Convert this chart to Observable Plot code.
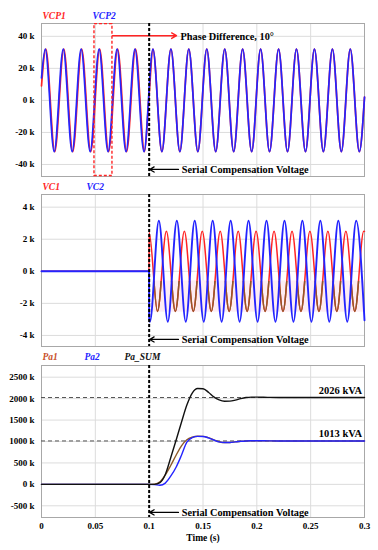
<!DOCTYPE html>
<html><head><meta charset="utf-8">
<script src="https://cdn.jsdelivr.net/npm/d3@7"></script>
<script src="https://cdn.jsdelivr.net/npm/@observablehq/plot@0.6"></script>
<style>
body{margin:0;background:#fff;}
#chart{width:378px;height:550px;}
#chart svg{display:block;}
</style></head><body><div id="chart"></div>
<script>
// ---------- tick values / labels ----------
const timeTicks = [0, 0.05, 0.1, 0.15, 0.2, 0.25, 0.3];
const timeTickLabels = ["0", "0.05", "0.1", "0.15", "0.2", "0.25", "0.3"];
const vcpTicks = [-40, -20, 0, 20, 40];
const vcpTickLabels = ["-40 k", "-20 k", "0 k", "20 k", "40 k"];
const vcTicks = [-4, -2, 0, 2, 4];
const vcTickLabels = ["-4 k", "-2 k", "0 k", "2 k", "4 k"];
const paTicks = [-500, 0, 500, 1000, 1500, 2000, 2500];
const paTickLabels = ["-500 k", "0 k", "500 k", "1000 k", "1500 k", "2000 k", "2500 k"];

// ---------- panel 1: VCP1 / VCP2 (k V), extrema ----------
const vcp2Time = [0,
  0.0035,0.0118,0.0202,0.0285,0.0368,0.0452,0.0535,0.0618,0.0702,0.0785,0.0868,0.0952,
  0.1035,0.1118,0.1202,0.1285,0.1368,0.1452,0.1535,0.1618,0.1702,0.1785,0.1868,0.1952,
  0.2035,0.2118,0.2202,0.2285,0.2368,0.2452,0.2535,0.2618,0.2702,0.2785,0.2868,0.2952,
  0.3];
const vcp2Value = [14,
  32,-32,32,-32,32,-32,32,-32,32,-32,32,-32,
  32,-32,32,-32,32,-32,32,-32,32,-32,32,-32,
  32,-32,32,-32,32,-32,32,-32,32,-32,32,-32,
  2];
const vcp1Time = [0,
  0.0040,0.0123,0.0207,0.0290,0.0373,0.0457,0.0540,0.0623,0.0707,0.0790,0.0873,0.0957,
  0.1];
const vcp1Value = [9,
  32,-32,32,-32,32,-32,32,-32,32,-32,32,-32,
  4];

// ---------- panel 2: VC1 / VC2 (k V) ----------
const vc1Time = [0,0.0999,0.1,
  0.1077,0.1160,0.1243,0.1327,0.1410,0.1493,0.1577,0.1660,0.1743,0.1827,0.1910,0.1993,
  0.2077,0.2160,0.2243,0.2327,0.2410,0.2493,0.2577,0.2660,0.2743,0.2827,0.2910,0.2993,
  0.3];
const vc1Value = [0,0,2.4,
  -2.5,2.5,-2.5,2.5,-2.5,2.5,-2.5,2.5,-2.5,2.5,-2.5,2.5,
  -2.5,2.5,-2.5,2.5,-2.5,2.5,-2.5,2.5,-2.5,2.5,-2.5,2.5,
  2.49];
const vc2Time = [0,0.0999,0.1,
  0.1007,0.1090,0.1173,0.1257,0.1340,0.1423,0.1507,0.1590,0.1673,0.1757,0.1840,0.1923,
  0.2007,0.2090,0.2173,0.2257,0.2340,0.2423,0.2507,0.2590,0.2673,0.2757,0.2840,0.2923,
  0.3];
const vc2Value = [0,0,-2.9,
  -3.15,3.15,-3.15,3.15,-3.15,3.15,-3.15,3.15,-3.15,3.15,-3.15,3.15,
  -3.15,3.15,-3.15,3.15,-3.15,3.15,-3.15,3.15,-3.15,3.15,-3.15,3.15,
  -3.05];

// ---------- panel 3: Pa1 / Pa2 / Pa_SUM (kVA) ----------
const paTime = [0,0.1,0.105,0.11,0.115,0.12,0.125,0.13,0.135,0.14,0.145,0.15,0.155,0.16,0.165,0.17,0.175,0.18,0.185,0.19,0.195,0.2,0.21,0.22,0.3];
const paSum = [0,0,0,40,230,620,1030,1450,1850,2130,2235,2230,2150,2040,1970,1940,1942,1965,2000,2025,2035,2036,2030,2026,2026];
const pa1 = [0,0,5,60,220,440,680,900,1040,1100,1122,1120,1090,1040,995,975,978,992,1005,1013,1016,1017,1015,1013,1013];
const pa2 = [0,0,-5,-20,30,190,400,680,985,1090,1120,1118,1085,1035,990,975,978,992,1005,1013,1016,1017,1015,1013,1013];
const refLevels = [2026, 1013];
const refLabels = ["2026 kVA", "1013 kVA"];

// ---------- annotations ----------
const eventTime = 0.1;
const serialText = "Serial Compensation Voltage";
const phaseText = "Phase Difference, 10°";
const phaseBox = {t1: 0.0492, t2: 0.0659};

// ---------- build ----------
const toRows = (T, V) => T.map((t, i) => ({t, v: V[i]}));
const vcp2 = toRows(vcp2Time, vcp2Value);
const vcp1 = toRows(vcp1Time, vcp1Value).concat(vcp2.filter(d => d.t > 0.1));
const vc1 = toRows(vc1Time, vc1Value);
const vc2 = toRows(vc2Time, vc2Value);
const paS = toRows(paTime, paSum), pa1r = toRows(paTime, pa1), pa2r = toRows(paTime, pa2);

const W = 378, ML = 41, MR = 14;
const FONT = "'Liberation Serif', 'Times New Roman', serif";
const RED = "#ff2424", BLUE = "#2424ff", BROWN = "#8e5a2a", GRID = "#dcdcdc";
const style = {fontFamily: FONT, fontWeight: "bold", fontSize: "9px", background: "white", overflow: "visible"};
const lab = (ticks, labels) => d => labels[ticks.indexOf(d)];

function common(ticks, labels) {
  return [
    Plot.gridX(timeTicks, {stroke: GRID, strokeOpacity: 1}),
    Plot.gridY(ticks, {stroke: GRID, strokeOpacity: 1}),
    Plot.frame({stroke: "#a8a8a8"}),
    Plot.axisY({ticks, tickFormat: lab(ticks, labels), tickSize: 0, tickPadding: 7, label: null, fontSize: 9, fontWeight: "bold"})
  ];
}
function legend(items) {
  return items.map(([txt, color, dx, dy]) =>
    Plot.text([txt], {frameAnchor: "top-left", dx, dy, fill: color, fontStyle: "italic", fontWeight: "bold",
      fontSize: 9.5, textAnchor: "start", lineAnchor: "middle", letterSpacing: "0.6px"}));
}
function serial(yv) {
  return [
    Plot.arrow([{x1: 0.1272, x2: 0.1004, y: yv}], {x1: "x1", x2: "x2", y1: "y", y2: "y", stroke: "black", strokeWidth: 1.3, headLength: 6}),
    Plot.text([serialText], {x: 0.1302, y: yv, textAnchor: "start", lineAnchor: "middle", fontSize: 10.3, fontWeight: "bold", fill: "black"})
  ];
}
const eventRule = Plot.ruleX([eventTime], {stroke: "black", strokeWidth: 2, strokeDasharray: "3,2"});

// Panel 1
const p1 = Plot.plot({
  width: W, height: 180, marginLeft: ML, marginRight: MR, marginTop: 23, marginBottom: 4, style,
  x: {domain: [0, 0.3], axis: null}, y: {domain: [-47.5, 48]},
  marks: [
    ...common(vcpTicks, vcpTickLabels),
    Plot.line(vcp1, {x: "t", y: "v", stroke: RED, strokeWidth: 1.7, curve: "monotone-x"}),
    Plot.line(vcp2, {x: "t", y: "v", stroke: BLUE, strokeWidth: 1.7, curve: "monotone-x"}),
    Plot.rect([phaseBox], {x1: "t1", x2: "t2", y1: -47.2, y2: 47.6, fill: "none", stroke: RED, strokeWidth: 1.4, strokeDasharray: "3,2"}),
    Plot.arrow([{x1: phaseBox.t2, x2: 0.1254, y: 40.4}], {x1: "x1", x2: "x2", y1: "y", y2: "y", stroke: RED, strokeWidth: 1.4, headLength: 6}),
    Plot.text([phaseText], {x: 0.1291, y: 40, textAnchor: "start", lineAnchor: "middle", fontSize: 10.3, fontWeight: "bold", fill: "black"}),
    eventRule,
    ...serial(-43.1),
    ...legend([["VCP1", RED, 1, -8], ["VCP2", BLUE, 51, -8]])
  ]
});

// Panel 2
const p2 = Plot.plot({
  width: W, height: 170, marginLeft: ML, marginRight: MR, marginTop: 14, marginBottom: 4, style,
  x: {domain: [0, 0.3], axis: null}, y: {domain: [-4.69, 4.79]},
  marks: [
    ...common(vcTicks, vcTickLabels),
    Plot.rect([{x1: 0.104, x2: 0.3, y1: -2.55, y2: -0.6}], {x1: "x1", x2: "x2", y1: "y1", y2: "y2", fill: "#fdecf3"}),
    Plot.line(vc1, {x: "t", y: "v", stroke: RED, strokeWidth: 1.5, curve: "monotone-x"}),
    Plot.line(vc1, {x: "t", y: "v", stroke: BROWN, strokeWidth: 1.5, curve: "monotone-x"}),
    Plot.line(vc2, {x: "t", y: "v", stroke: BLUE, strokeWidth: 1.9, curve: "monotone-x"}),
    eventRule,
    ...serial(-4.25),
    ...legend([["VC1", RED, 1, -8], ["VC2", BLUE, 45, -8]])
  ]
});
// brown tint only on the lower lobe of VC1
{
  const ys = p2.scale("y");
  const yTop = ys.apply(-0.6);
  const svg = d3.select(p2);
  svg.append("defs").append("clipPath").attr("id", "vc1low")
    .append("rect").attr("x", 0).attr("y", yTop).attr("width", W).attr("height", 170 - yTop);
  svg.selectAll(`g[stroke="${BROWN}"]`).attr("clip-path", "url(#vc1low)");
}

// Panel 3
const p3 = Plot.plot({
  width: W, height: 200, marginLeft: ML, marginRight: MR, marginTop: 15, marginBottom: 33, style,
  x: {domain: [0, 0.3]}, y: {domain: [-773, 2773]},
  marks: [
    ...common(paTicks, paTickLabels),
    Plot.axisX({ticks: timeTicks, tickFormat: lab(timeTicks, timeTickLabels), tickSize: 0, tickPadding: 5, label: null, fontSize: 9, fontWeight: "bold"}),
    Plot.text(["Time (s)"], {frameAnchor: "bottom", dy: 20, lineAnchor: "middle", fontSize: 9.5, fontWeight: "bold"}),
    Plot.ruleY(refLevels, {stroke: "#555", strokeWidth: 1, strokeDasharray: "4,3"}),
    Plot.line(pa1r, {x: "t", y: "v", stroke: BROWN, strokeWidth: 1.4, curve: "monotone-x"}),
    Plot.line(pa2r, {x: "t", y: "v", stroke: BLUE, strokeWidth: 1.4, curve: "monotone-x"}),
    Plot.line(paS, {x: "t", y: "v", stroke: "#111", strokeWidth: 1.4, curve: "monotone-x"}),
    Plot.text(refLevels.map((v, i) => ({v, label: refLabels[i]})), {x: () => 0.2978, y: "v", text: "label", dy: -7, textAnchor: "end", lineAnchor: "middle", fontSize: 10.5, fontWeight: "bold"}),
    eventRule,
    ...serial(-654),
    ...legend([["Pa1", "#c8502a", 1, -9], ["Pa2", BLUE, 43, -9], ["Pa_SUM", "#111", 83, -9]])
  ]
});

const root = document.getElementById("chart");
root.append(p1, p2, p3);
</script></body></html>
